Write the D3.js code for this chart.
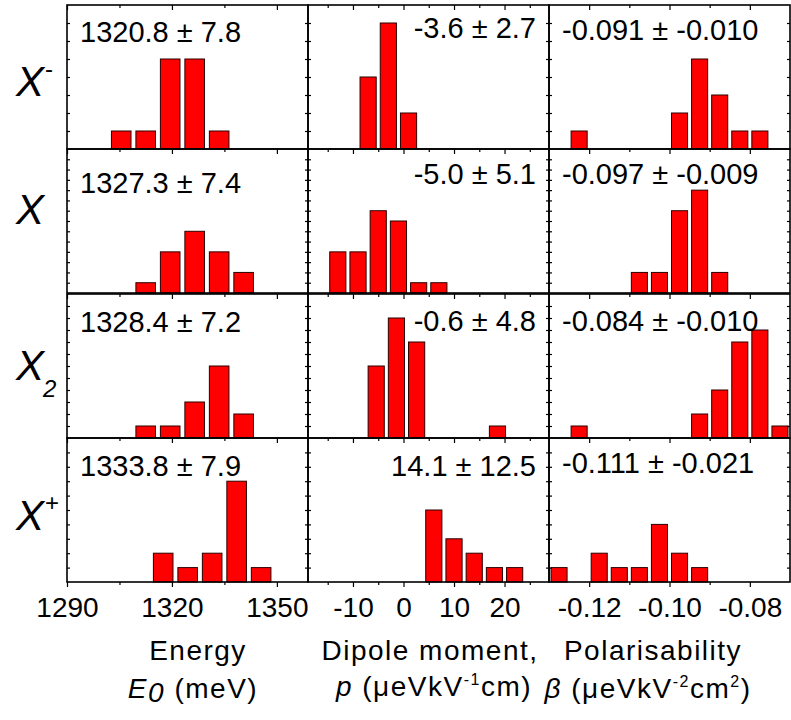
<!DOCTYPE html>
<html>
<head>
<meta charset="utf-8">
<script src="https://cdn.jsdelivr.net/npm/d3@7"></script>
<style>
body { margin: 0; background: #fff; }
svg { font-family: "Liberation Sans", Arial, sans-serif; }
</style>
</head>
<body>
<svg id="chart"></svg>
<script>
// bin centres and counts, one array per row (X-, X, X2, X+)
var energyCenters = [
    [1305.5, 1312.5, 1319.5, 1326.5, 1333.5],
    [1312.5, 1319.5, 1326.5, 1333.5, 1340.5],
    [1312.5, 1319.5, 1326.5, 1333.5, 1340.5],
    [1317.5, 1324.5, 1331.5, 1338.5, 1345.5]
]
var energyCounts = [
    [1, 1, 5, 5, 1],
    [1, 4, 6, 4, 2],
    [1, 1, 3, 6, 2],
    [2, 1, 2, 7, 1]
]
var dipoleCenters = [
    [-7, -3, 1],
    [-13, -9, -5, -1, 3, 7],
    [-5.4, -1.4, 2.6, 18.6],
    [6, 10, 14, 18, 22]
]
var dipoleCounts = [
    [4, 7, 2],
    [4, 4, 8, 7, 1, 1],
    [6, 10, 8, 1],
    [5, 3, 2, 1, 1]
]
var polarCenters = [
    [-0.1225, -0.0975, -0.0925, -0.0875, -0.0825, -0.0775],
    [-0.1075, -0.1025, -0.0975, -0.0925, -0.0875],
    [-0.1225, -0.0925, -0.0875, -0.0825, -0.0775, -0.0725],
    [-0.1275, -0.1175, -0.1125, -0.1075, -0.1025, -0.0975, -0.0925]
]
var polarCounts = [
    [1, 2, 5, 3, 1, 1],
    [2, 2, 8, 10, 2],
    [1, 2, 4, 8, 9, 1],
    [1, 2, 1, 1, 4, 2, 1]
]
var binWidths = [7, 4, 0.005]
var countMax = [8, 14, 12, 10]

var energyLabels = ["1320.8 \u00b1 7.8", "1327.3 \u00b1 7.4", "1328.4 \u00b1 7.2", "1333.8 \u00b1 7.9"]
var dipoleLabels = ["-3.6 \u00b1 2.7", "-5.0 \u00b1 5.1", "-0.6 \u00b1 4.8", "14.1 \u00b1 12.5"]
var polarLabels = ["-0.091 \u00b1 -0.010", "-0.097 \u00b1 -0.009", "-0.084 \u00b1 -0.010", "-0.111 \u00b1 -0.021"]

var xDomains = [[1290, 1358.9], [-18.9, 28.8], [-0.1300, -0.0700]]
var majorTicks = [[1290, 1320, 1350], [-10, 0, 10, 20], [-0.12, -0.10, -0.08]]
var minorTicks = [[1305, 1335], [-15, -5, 5, 15, 25], [-0.11, -0.09]]
var tickDigits = ["d", "d", ".2f"]

var screen = {width: 791, height: 720}
var colLeft = [67, 308, 549]
var colWidth = 241
var rowTop = [5, 149, 294, 438]
var rowHeight = 144

// label baselines below each panel top, and alignment per column
var labelDy = [
    [36.7, 33.3, 35],
    [43.7, 35.3, 35.3],
    [37.7, 36.7, 36.7],
    [37.7, 37.7, 35.3]
]
var labelX = [13, 228, 13]
var labelAnchor = ["start", "end", "start"]

var svg = d3.select("#chart")
    .attr("width", screen.width)
    .attr("height", screen.height)

var columns = [
    {centers: energyCenters, counts: energyCounts, labels: energyLabels},
    {centers: dipoleCenters, counts: dipoleCounts, labels: dipoleLabels},
    {centers: polarCenters, counts: polarCounts, labels: polarLabels}
]

var drawPanel = function(row, col)
{
    var data = columns[col]
    var xScale = d3.scaleLinear()
        .domain(xDomains[col])
        .range([0, colWidth])
    var yScale = d3.scaleLinear()
        .domain([0, countMax[row]])
        .range([rowHeight, 0])

    var g = svg.append("g")
        .attr("transform", "translate(" + colLeft[col] + "," + rowTop[row] + ")")

    var bins = data.centers[row].map(function(c, i)
    {
        return {c: c, n: data.counts[row][i]}
    })
    var half = binWidths[col] * 0.4

    g.selectAll("rect.bar")
        .data(bins)
        .enter()
        .append("rect")
        .attr("class", "bar")
        .attr("x", function(d) { return xScale(d.c - half) })
        .attr("width", function(d) { return xScale(d.c + half) - xScale(d.c - half) })
        .attr("y", function(d) { return yScale(d.n) })
        .attr("height", function(d) { return yScale(0) - yScale(d.n) })
        .attr("fill", "#ff0000")
        .attr("stroke", "#2a0000")
        .attr("stroke-width", 1)

    // ticks pointing into the panel
    var yTicks = d3.range(1, countMax[row])
    g.append("g")
        .call(d3.axisLeft(yScale).tickValues(yTicks).tickSize(-3).tickFormat(""))
    g.append("g")
        .attr("transform", "translate(" + colWidth + ",0)")
        .call(d3.axisRight(yScale).tickValues(yTicks).tickSize(-3).tickFormat(""))
    g.append("g")
        .call(d3.axisTop(xScale).tickValues(majorTicks[col]).tickSize(-5).tickFormat(""))
    g.append("g")
        .call(d3.axisTop(xScale).tickValues(minorTicks[col]).tickSize(-3).tickFormat(""))

    if (row == 3)
    {
        var fmt = d3.format(tickDigits[col])
        var bottom = g.append("g")
            .attr("transform", "translate(0," + rowHeight + ")")
            .call(d3.axisBottom(xScale).tickValues(majorTicks[col]).tickSize(5).tickPadding(10)
                .tickFormat(function(v) { return fmt(v).replace("\u2212", "-") }))
        bottom.selectAll("text")
            .attr("font-size", 28)
            .attr("font-family", "Liberation Sans, Arial, sans-serif")
            .attr("fill", "#000")
        g.append("g")
            .attr("transform", "translate(0," + rowHeight + ")")
            .call(d3.axisBottom(xScale).tickValues(minorTicks[col]).tickSize(3).tickFormat(""))
    }

    g.selectAll(".domain").remove()
    g.selectAll(".tick line").attr("stroke", "#000").attr("stroke-width", 1.2)

    g.append("rect")
        .attr("width", colWidth)
        .attr("height", rowHeight)
        .attr("fill", "none")
        .attr("stroke", "#000")
        .attr("stroke-width", 1.6)

    g.append("text")
        .attr("x", labelX[col])
        .attr("y", labelDy[row][col])
        .attr("text-anchor", labelAnchor[col])
        .attr("font-size", 29)
        .attr("fill", "#000")
        .text(data.labels[row])
}

for (var r = 0; r < 4; r++)
{
    for (var c = 0; c < 3; c++)
    {
        drawPanel(r, c)
    }
}

// row labels
var rowNames = ["X", "X", "X", "X"]
var rowMarks = ["-", "", "2", "+"]
var rowBaselines = [96, 224, 380, 530]
rowNames.forEach(function(name, i)
{
    var t = svg.append("text")
        .attr("x", 16)
        .attr("y", rowBaselines[i])
        .attr("font-size", 42)
        .attr("font-style", "italic")
        .attr("fill", "#000")
        .text(name)
    if (rowMarks[i] == "2")
    {
        t.append("tspan").attr("dx", -1).attr("dy", 17).attr("font-size", 24).text("2")
    }
    else if (rowMarks[i] != "")
    {
        t.append("tspan").attr("dx", 1).attr("dy", -19).attr("font-size", 24).attr("font-style", "normal").text(rowMarks[i])
    }
})

// axis titles
var titles = svg.append("g")
    .attr("font-size", 28)
    .attr("letter-spacing", 1.5)
    .attr("fill", "#000")
    .attr("text-anchor", "middle")

titles.append("text").attr("x", 198).attr("y", 660).text("Energy")
var e0 = titles.append("text").attr("x", 193).attr("y", 698)
e0.append("tspan").attr("font-style", "italic").text("E")
e0.append("tspan").attr("font-style", "italic").attr("dy", 4).text("0")
e0.append("tspan").attr("dy", -4).text(" (meV)")

titles.append("text").attr("x", 430).attr("y", 660).text("Dipole moment,")
var pt = titles.append("text").attr("x", 434).attr("y", 696)
pt.append("tspan").attr("font-style", "italic").text("p")
pt.append("tspan").text(" (\u03bceVkV")
pt.append("tspan").attr("dy", -11).attr("font-size", 16).text("-1")
pt.append("tspan").attr("dy", 11).text("cm)")

titles.append("text").attr("x", 653).attr("y", 660).text("Polarisability")
var bt = titles.append("text").attr("x", 648).attr("y", 698)
bt.append("tspan").attr("font-style", "italic").text("\u03b2")
bt.append("tspan").text(" (\u03bceVkV")
bt.append("tspan").attr("dy", -11).attr("font-size", 16).text("-2")
bt.append("tspan").attr("dy", 11).text("cm")
bt.append("tspan").attr("dy", -11).attr("font-size", 16).text("2")
bt.append("tspan").attr("dy", 11).text(")")
</script>
</body>
</html>
